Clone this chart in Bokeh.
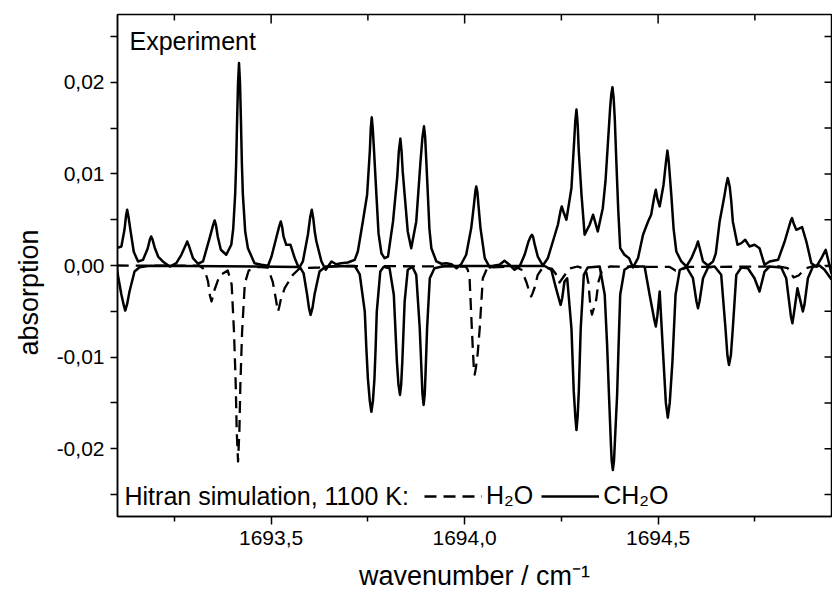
import math
from bokeh.plotting import figure
from bokeh.models import (FixedTicker, CustomJSTickFormatter, Label, Title,
                          Legend, LegendItem, Range1d)
from bokeh.embed import file_html
from bokeh.resources import INLINE

# ---------------- data ----------------
exp_wn = [1693.100, 1693.113, 1693.121, 1693.125, 1693.128, 1693.1315, 1693.137, 1693.145,
          1693.156, 1693.169, 1693.181, 1693.187, 1693.190, 1693.193, 1693.199, 1693.208,
          1693.220, 1693.238, 1693.255, 1693.268, 1693.279, 1693.283, 1693.288, 1693.298,
          1693.311, 1693.324, 1693.341, 1693.350, 1693.354, 1693.3575, 1693.362, 1693.370,
          1693.384, 1693.397, 1693.402, 1693.407, 1693.4095, 1693.412, 1693.4145, 1693.417,
          1693.4195, 1693.422, 1693.4245, 1693.427, 1693.433, 1693.440, 1693.457, 1693.475,
          1693.492, 1693.501, 1693.513, 1693.521, 1693.525, 1693.5285, 1693.532, 1693.539,
          1693.550, 1693.561, 1693.572, 1693.582, 1693.595, 1693.601, 1693.605, 1693.609,
          1693.613, 1693.617, 1693.630, 1693.641, 1693.656, 1693.668, 1693.681, 1693.698,
          1693.716, 1693.724, 1693.737, 1693.748, 1693.755, 1693.7575, 1693.760, 1693.7625,
          1693.766, 1693.772, 1693.7775, 1693.785, 1693.793, 1693.802, 1693.815, 1693.826,
          1693.830, 1693.834, 1693.837, 1693.840, 1693.845, 1693.853, 1693.862, 1693.875,
          1693.886, 1693.891, 1693.895, 1693.898, 1693.901, 1693.905, 1693.909, 1693.914,
          1693.927, 1693.940, 1693.953, 1693.966, 1693.979, 1693.991, 1694.004, 1694.017,
          1694.021, 1694.025, 1694.028, 1694.030, 1694.033, 1694.036, 1694.041, 1694.052,
          1694.065, 1694.078, 1694.090, 1694.103, 1694.116, 1694.129, 1694.142, 1694.155,
          1694.165, 1694.171, 1694.174, 1694.177, 1694.181, 1694.189, 1694.202, 1694.215,
          1694.228, 1694.241, 1694.248, 1694.251, 1694.255, 1694.263, 1694.276, 1694.283,
          1694.286, 1694.289, 1694.292, 1694.295, 1694.302, 1694.310, 1694.323, 1694.332,
          1694.344, 1694.357, 1694.364, 1694.370, 1694.376, 1694.379, 1694.382, 1694.385,
          1694.388, 1694.392, 1694.397, 1694.402, 1694.413, 1694.425, 1694.435, 1694.448,
          1694.461, 1694.474, 1694.482, 1694.490, 1694.494, 1694.498, 1694.504, 1694.514,
          1694.520, 1694.524, 1694.5275, 1694.534, 1694.540, 1694.547, 1694.560, 1694.573,
          1694.586, 1694.598, 1694.603, 1694.608, 1694.616, 1694.629, 1694.642, 1694.649,
          1694.659, 1694.671, 1694.676, 1694.680, 1694.685, 1694.689, 1694.693, 1694.705,
          1694.715, 1694.725, 1694.736, 1694.749, 1694.762, 1694.775, 1694.788, 1694.810,
          1694.827, 1694.842, 1694.846, 1694.851, 1694.857, 1694.872, 1694.883, 1694.896,
          1694.909, 1694.922, 1694.933, 1694.948]
exp_abs = [0.00189, 0.00208, 0.00390, 0.00540, 0.00609, 0.00530, 0.00370, 0.00150,
           0.00044, 0.00062, 0.00186, 0.00290, 0.00317, 0.00290, 0.00197, 0.00098,
           0.00044, -0.00011, 0.00025, 0.00117, 0.00220, 0.00262, 0.00210, 0.00080,
           0.00019, 0.00044, 0.00298, 0.00440, 0.00492, 0.00440, 0.00317, 0.00172,
           0.00117, 0.00226, 0.00400, 0.00773, 0.01100, 0.01574, 0.02000, 0.02211,
           0.02000, 0.01574, 0.01100, 0.00773, 0.00370, 0.00189, 0.00025, 0.00008,
           -0.00003, 0.00098, 0.00298, 0.00430, 0.00481, 0.00420, 0.00317, 0.00226,
           0.00226, 0.00080, -0.00030, 0.00044, 0.00336, 0.00530, 0.00609, 0.00510,
           0.00360, 0.00262, 0.00044, -0.00047, 0.00044, 0.00014, 0.00025, 0.00033,
           0.00062, 0.00153, 0.00481, 0.00773, 0.01246, 0.01500, 0.01617, 0.01500,
           0.01246, 0.00773, 0.00350, 0.00134, 0.00080, 0.00098, 0.00481, 0.00973,
           0.01250, 0.01385, 0.01250, 0.01027, 0.00773, 0.00372, 0.00189, 0.00481,
           0.01137, 0.01400, 0.01519, 0.01400, 0.01137, 0.00773, 0.00400, 0.00189,
           0.00044, 0.00019, 0.00025, 0.00014, -0.00030, 0.00014, 0.00117, 0.00408,
           0.00550, 0.00700, 0.00820, 0.00863, 0.00800, 0.00645, 0.00408, 0.00080,
           -0.00022, 0.00000, 0.00008, 0.00051, 0.00008, -0.00047, -0.00011, 0.00117,
           0.00262, 0.00320, 0.00336, 0.00310, 0.00230, 0.00098, 0.00000, 0.00080,
           0.00262, 0.00445, 0.00600, 0.00645, 0.00590, 0.00500, 0.00845, 0.01355,
           0.01580, 0.01702, 0.01550, 0.01246, 0.00773, 0.00336, 0.00445, 0.00554,
           0.00372, 0.00626, 0.00920, 0.01319, 0.01720, 0.01870, 0.01945, 0.01830,
           0.01600, 0.01137, 0.00600, 0.00189, 0.00117, 0.00080, -0.00022, 0.00080,
           0.00336, 0.00481, 0.00554, 0.00750, 0.00827, 0.00730, 0.00645, 0.00882,
           0.01120, 0.01254, 0.01130, 0.00773, 0.00400, 0.00153, 0.00044, -0.00011,
           0.00080, 0.00200, 0.00262, 0.00180, 0.00044, 0.00000, 0.00044, 0.00131,
           0.00481, 0.00754, 0.00880, 0.00954, 0.00860, 0.00700, 0.00481, 0.00226,
           0.00244, 0.00281, 0.00208, 0.00226, 0.00189, 0.00008, 0.00044, 0.00062,
           0.00262, 0.00480, 0.00517, 0.00450, 0.00390, 0.00419, 0.00262, 0.00025,
           -0.00011, 0.00080, 0.00172, -0.00090]

h2o_wn = [1693.101, 1693.315, 1693.328, 1693.337, 1693.342, 1693.346, 1693.350, 1693.354,
          1693.367, 1693.388, 1693.398, 1693.404, 1693.4085, 1693.411, 1693.4145, 1693.418,
          1693.4205, 1693.425, 1693.432, 1693.442, 1693.465, 1693.491, 1693.504, 1693.512,
          1693.515, 1693.518, 1693.521, 1693.525, 1693.535, 1693.556, 1693.574, 1693.625,
          1693.677, 1694.003, 1694.008, 1694.013, 1694.017, 1694.021, 1694.0235, 1694.026,
          1694.029, 1694.034, 1694.039, 1694.047, 1694.059, 1694.129, 1694.147, 1694.160,
          1694.169, 1694.172, 1694.175, 1694.181, 1694.189, 1694.202, 1694.225, 1694.235,
          1694.245, 1694.258, 1694.271, 1694.292, 1694.313, 1694.320, 1694.325, 1694.329,
          1694.333, 1694.340, 1694.346, 1694.354, 1694.375, 1694.530, 1694.545, 1694.561,
          1694.576, 1694.814, 1694.835, 1694.850, 1694.863, 1694.881, 1694.897, 1694.948]
h2o_abs = [0.00000, -0.00003, -0.00044, -0.00175, -0.00330, -0.00393, -0.00330, -0.00262,
           -0.00109, -0.00055, -0.00208, -0.00721, -0.01300, -0.01800, -0.02140, -0.01800,
           -0.01300, -0.00721, -0.00197, -0.00055, -0.00016, -0.00022, -0.00175, -0.00361,
           -0.00440, -0.00503, -0.00450, -0.00372, -0.00248, -0.00102, -0.00030, -0.00022,
           -0.00005, -0.00011, -0.00044, -0.00156, -0.00536, -0.00900, -0.01100, -0.01191,
           -0.01120, -0.00950, -0.00685, -0.00139, -0.00022, -0.00011, -0.00047, -0.00186,
           -0.00310, -0.00339, -0.00310, -0.00240, -0.00102, -0.00022, -0.00033, -0.00087,
           -0.00186, -0.00109, -0.00033, -0.00011, -0.00044, -0.00197, -0.00450, -0.00536,
           -0.00480, -0.00372, -0.00175, -0.00066, -0.00011, -0.00016, -0.00055, -0.00044,
           -0.00016, -0.00011, -0.00030, -0.00131, -0.00109, -0.00033, -0.00011, -0.00005]

ch2o_wn = [1693.101, 1693.104, 1693.113, 1693.119, 1693.123, 1693.128, 1693.134, 1693.147,
           1693.160, 1693.186, 1693.574, 1693.584, 1693.593, 1693.598, 1693.602, 1693.607,
           1693.612, 1693.625, 1693.641, 1693.716, 1693.729, 1693.742, 1693.746, 1693.750,
           1693.755, 1693.759, 1693.763, 1693.767, 1693.770, 1693.773, 1693.782, 1693.791,
           1693.806, 1693.817, 1693.825, 1693.829, 1693.833, 1693.836, 1693.839, 1693.845,
           1693.853, 1693.865, 1693.875, 1693.884, 1693.889, 1693.891, 1693.894, 1693.897,
           1693.899, 1693.903, 1693.910, 1693.922, 1693.948, 1694.207, 1694.224, 1694.235,
           1694.244, 1694.248, 1694.252, 1694.258, 1694.265, 1694.276, 1694.282, 1694.286,
           1694.289, 1694.292, 1694.295, 1694.300, 1694.308, 1694.318, 1694.349, 1694.362,
           1694.368, 1694.373, 1694.378, 1694.380, 1694.383, 1694.386, 1694.388, 1694.394,
           1694.398, 1694.402, 1694.413, 1694.426, 1694.465, 1694.478, 1694.490, 1694.494,
           1694.498, 1694.504, 1694.514, 1694.520, 1694.525, 1694.530, 1694.537, 1694.545,
           1694.556, 1694.573, 1694.590, 1694.599, 1694.603, 1694.607, 1694.616, 1694.629,
           1694.646, 1694.663, 1694.674, 1694.679, 1694.683, 1694.688, 1694.693, 1694.702,
           1694.715, 1694.732, 1694.749, 1694.762, 1694.775, 1694.788, 1694.818, 1694.831,
           1694.843, 1694.847, 1694.851, 1694.860, 1694.870, 1694.874, 1694.878, 1694.887,
           1694.900, 1694.917, 1694.930, 1694.948]
ch2o_abs = [0.00000, -0.00102, -0.00317, -0.00430, -0.00492, -0.00420, -0.00284, -0.00066,
            -0.00019, -0.00003, -0.00016, -0.00087, -0.00320, -0.00470, -0.00539, -0.00460,
            -0.00320, -0.00066, -0.00011, -0.00005, -0.00098, -0.00503, -0.00900, -0.01232,
            -0.01480, -0.01596, -0.01480, -0.01232, -0.00900, -0.00503, -0.00066, -0.00014,
            -0.00030, -0.00320, -0.01049, -0.01300, -0.01413, -0.01300, -0.01049, -0.00393,
            -0.00047, -0.00014, -0.00102, -0.00685, -0.01200, -0.01400, -0.01522, -0.01400,
            -0.01180, -0.00685, -0.00139, -0.00030, -0.00005, -0.00005, -0.00047, -0.00230,
            -0.00370, -0.00430, -0.00360, -0.00175, -0.00139, -0.00685, -0.01377, -0.01650,
            -0.01796, -0.01650, -0.01377, -0.00685, -0.00102, -0.00022, -0.00011, -0.00320,
            -0.00850, -0.01413, -0.01950, -0.02130, -0.02233, -0.02130, -0.01950, -0.01413,
            -0.00850, -0.00320, -0.00047, -0.00011, -0.00011, -0.00320, -0.00590, -0.00667,
            -0.00550, -0.00284, -0.01049, -0.01500, -0.01661, -0.01500, -0.01049, -0.00320,
            -0.00047, -0.00014, -0.00139, -0.00390, -0.00467, -0.00390, -0.00139, -0.00022,
            -0.00011, -0.00102, -0.00685, -0.00980, -0.01085, -0.00980, -0.00685, -0.00102,
            -0.00022, -0.00030, -0.00139, -0.00284, -0.00066, -0.00011, -0.00022, -0.00139,
            -0.00550, -0.00631, -0.00520, -0.00248, -0.00430, -0.00503, -0.00430, -0.00139,
            -0.00011, 0.00000, -0.00047, -0.00153]

x_major = [1693.5, 1694.0, 1694.5]
x_minor = [1693.25, 1693.75, 1694.25, 1694.75]
y_major = [-0.02, -0.01, 0.0, 0.01, 0.02]
y_minor = [-0.025, -0.015, -0.005, 0.005, 0.015, 0.025]

X_START, X_END = 1693.103, 1694.948
Y_START, Y_END = -0.0274, 0.0274

FONT = "Liberation Sans"

p = figure(width=832, height=596, output_backend="svg", toolbar_location=None,
           x_range=Range1d(X_START, X_END), y_range=Range1d(Y_START, Y_END),
           min_border_left=117, min_border_right=1, min_border_top=14,
           min_border_bottom=80, x_axis_label="wavenumber / cm\u207b\u00b9")
p.grid.visible = False
p.background_fill_color = "white"
p.border_fill_color = "white"
p.outline_line_color = "black"
p.outline_line_width = 1.5

xt = FixedTicker(ticks=x_major, minor_ticks=x_minor)
yt = FixedTicker(ticks=y_major, minor_ticks=y_minor)
xfmt = CustomJSTickFormatter(code="return tick.toFixed(1).replace('.', ',');")
yfmt = CustomJSTickFormatter(code="return tick.toFixed(2).replace('.', ',');")

def style(ax):
    ax.axis_line_color = "black"
    ax.axis_line_width = 1.5
    ax.major_tick_line_color = "black"
    ax.minor_tick_line_color = "black"
    ax.major_tick_line_width = 1.5
    ax.minor_tick_line_width = 1.5
    ax.major_label_text_font = FONT
    ax.major_label_text_font_size = "21px"
    ax.major_label_text_color = "black"
    ax.axis_label_text_font = FONT
    ax.axis_label_text_font_size = "27px"
    ax.axis_label_text_font_style = "normal"
    ax.axis_label_text_color = "black"

xa = p.xaxis[0]
xa.ticker = xt
xa.formatter = xfmt
style(xa)
xa.major_tick_out = 8
xa.major_tick_in = 0
xa.minor_tick_out = 5
xa.minor_tick_in = 0
xa.major_label_standoff = 6
xa.axis_label_standoff = 13

ya = p.yaxis[0]
ya.ticker = yt
ya.formatter = yfmt
style(ya)
ya.major_tick_out = 7
ya.major_tick_in = 0
ya.minor_tick_out = 7
ya.minor_tick_in = 0
ya.major_label_standoff = 6

# y-axis title, placed a little below the centre as in the reference
p.add_layout(Title(text="absorption", align="left", offset=161, standoff=19,
                   text_font=FONT, text_font_size="27px", text_font_style="normal",
                   text_color="black"), "left")

# inward ticks on the top and right frame edges
p.ray(x=x_major, y=[Y_END] * len(x_major), length=9, length_units="screen",
      angle=-math.pi / 2, line_color="black", line_width=1.5)
p.ray(x=x_minor, y=[Y_END] * len(x_minor), length=6, length_units="screen",
      angle=-math.pi / 2, line_color="black", line_width=1.5)
p.ray(x=[X_END] * (len(y_major) + len(y_minor)), y=y_major + y_minor, length=7,
      length_units="screen", angle=math.pi, line_color="black", line_width=1.5)

r_h2o = p.line(h2o_wn, h2o_abs, line_color="black", line_width=2.3, line_dash="12 7",
               line_join="round")
r_ch2o = p.line(ch2o_wn, ch2o_abs, line_color="black", line_width=2.5, line_join="round")
p.line(exp_wn, exp_abs, line_color="black", line_width=2.5, line_join="round")

p.add_layout(Label(x=12, y=490, x_units="screen", y_units="screen", text="Experiment",
                   text_font=FONT, text_font_size="25px", text_baseline="top",
                   text_color="black"))
p.add_layout(Label(x=7, y=21, x_units="screen", y_units="screen",
                   text="Hitran simulation, 1100 K:", text_font=FONT,
                   text_font_size="25px", text_baseline="middle", text_color="black"))

legend = Legend(items=[LegendItem(label="H\u2082O", renderers=[r_h2o]),
                       LegendItem(label="CH\u2082O", renderers=[r_ch2o])],
                orientation="horizontal", location=(307, 6),
                background_fill_alpha=0, border_line_alpha=0,
                label_text_font=FONT, label_text_font_size="25px", label_text_color="black",
                glyph_width=58, label_standoff=4, spacing=8, padding=0, margin=0)
p.add_layout(legend)

open("out.html", "w").write(file_html(p, INLINE))
